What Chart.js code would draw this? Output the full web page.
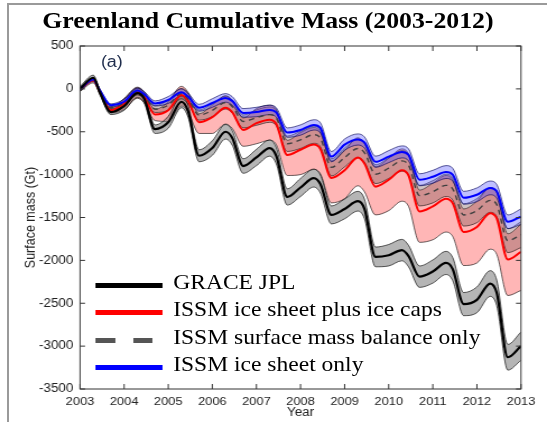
<!DOCTYPE html>
<html>
<head>
<meta charset="utf-8">
<script src="https://cdn.jsdelivr.net/npm/chart.js@4.4.1/dist/chart.umd.min.js"></script>
<style>
  body { margin: 0; background: #fff; overflow: hidden; }
  #page { position: relative; width: 547px; height: 422px; overflow: hidden; }
  #frame { position: absolute; left: 7px; top: 3px; width: 560px; height: 440px;
           border-left: 2px solid #9a9a9a; border-top: 2px solid #9a9a9a; }
  #box { position: absolute; left: 0; top: 0; width: 488px; height: 422px;
         transform: scaleX(1.1209); transform-origin: 0 0; }
  #myChart { position: absolute; left: 0; top: 0; }
  .titulo { position: absolute; left: 0; top: 9px; width: 478px; text-align: center;
            font: bold 23px "Liberation Serif", serif; line-height: 23px; color: #000; white-space: nowrap; }
  .panel { position: absolute; left: 90px; top: 54px; font: 16px "Liberation Sans", sans-serif;
           line-height: 16px; color: #1f2d4d; }
  .leg-line { position: absolute; height: 5px; }
  .leg-text { position: absolute; left: 154.5px; font: 21px "Liberation Serif", serif;
              line-height: 21px; color: #000; white-space: nowrap; }
</style>
</head>
<body>
<div id="page">
  <div id="frame"></div>
  <div id="box">
    <canvas id="myChart" width="488" height="422" style="width:488px;height:422px"></canvas>
    <div class="titulo">Greenland Cumulative Mass (2003-2012)</div>
    <div class="panel">(a)</div>
    <div id="leyenda"></div>
  </div>
</div>
<script>
// datos (Gt)
const years = [
  2003, 2003.3, 2003.45, 2003.7,
  2004, 2004.3, 2004.45, 2004.7,
  2005, 2005.3, 2005.45, 2005.7,
  2006, 2006.3, 2006.45, 2006.7,
  2007, 2007.3, 2007.45, 2007.7,
  2008, 2008.3, 2008.45, 2008.7,
  2009, 2009.3, 2009.45, 2009.7,
  2010, 2010.3, 2010.45, 2010.7,
  2011, 2011.3, 2011.45, 2011.7,
  2012, 2012.3, 2012.45, 2012.7,
  2013
];
const grace = [0, 130, -40, -270, -200, -50, -110, -470, -390, -150, -260, -780,
  -690, -500, -570, -900, -800, -690, -780, -1260, -1150, -1040, -1110, -1470,
  -1400, -1310, -1400, -1960, -1940, -1880, -1950, -2190, -2130, -2030, -2100, -2510,
  -2460, -2270, -2380, -3130, -3000];
const issmCaps = [0, 100, -30, -250, -170, -40, -90, -300, -250, -70, -140, -390,
  -330, -220, -270, -480, -400, -360, -410, -770, -710, -650, -700, -1040,
  -950, -800, -870, -1140, -1060, -950, -1010, -1430, -1370, -1280, -1330, -1670,
  -1610, -1450, -1510, -1990, -1900];
const issmSmb = [0, 105, -25, -220, -160, -30, -75, -235, -190, -55, -115, -305,
  -250, -160, -205, -380, -335, -300, -340, -640, -595, -535, -575, -915,
  -800, -695, -745, -995, -925, -840, -890, -1245, -1200, -1125, -1165, -1470,
  -1420, -1300, -1350, -1770, -1700];
const issmSheet = [0, 110, -20, -190, -150, -20, -60, -170, -130, -40, -90, -220,
  -165, -105, -140, -280, -270, -245, -275, -510, -480, -420, -455, -790,
  -650, -590, -625, -850, -790, -735, -770, -1060, -1025, -970, -1000, -1270,
  -1235, -1155, -1195, -1550, -1490];

// incertidumbre por año (2003..2013)
const graceErr = [30, 50, 70, 85, 95, 105, 115, 125, 135, 150, 165];
const capsErrUp = [20, 60, 100, 140, 170, 200, 230, 250, 270, 300, 320];
const capsErrLow = [30, 70, 130, 190, 240, 290, 330, 360, 390, 420, 450];
const smbErr = [20, 40, 60, 75, 90, 100, 110, 120, 130, 140, 150];
const sheetErr = [15, 30, 40, 50, 55, 60, 65, 70, 75, 80, 90];

const yTicks = [500, 0, -500, -1000, -1500, -2000, -2500, -3000, -3500];
const xTicks = [2003, 2004, 2005, 2006, 2007, 2008, 2009, 2010, 2011, 2012, 2013];

function puntos(vals, err, signo) {
  return years.map(function (t, i) {
    const e = err ? err[Math.floor(i / 4)] * signo : 0;
    return { x: t, y: vals[i] + e };
  });
}

function linea(label, vals, color, ancho, dash) {
  return {
    label: label, data: puntos(vals), borderColor: color, borderWidth: ancho,
    borderDash: dash || [], pointRadius: 0, fill: false,
    cubicInterpolationMode: 'monotone'
  };
}

function banda(vals, up, low, relleno, borde) {
  return [{
    label: 'sup', data: puntos(vals, up, 1), borderColor: borde, borderWidth: 0.8,
    pointRadius: 0, fill: false, cubicInterpolationMode: 'monotone'
  }, {
    label: 'inf', data: puntos(vals, low, -1), borderColor: borde, borderWidth: 0.8,
    backgroundColor: relleno, pointRadius: 0, fill: '-1', cubicInterpolationMode: 'monotone'
  }];
}

const datasets = [
  linea('GRACE JPL', grace, '#000000', 2.2),
  linea('ISSM ice sheet only', issmSheet, '#0000ff', 2),
  linea('ISSM surface mass balance only', issmSmb, '#404040', 1.4, [5, 4]),
  linea('ISSM ice sheet plus ice caps', issmCaps, '#ff0000', 2)
]
  .concat(banda(issmSheet, sheetErr, sheetErr, 'rgba(90,90,255,0.38)', 'rgba(0,0,90,0.8)'))
  .concat(banda(issmSmb, smbErr, smbErr, 'rgba(110,70,70,0.33)', 'rgba(0,0,0,0.7)'))
  .concat(banda(grace, graceErr, graceErr, 'rgba(120,120,120,0.55)', 'rgba(0,0,0,0.8)'))
  .concat(banda(issmCaps, capsErrUp, capsErrLow, 'rgba(255,110,110,0.5)', 'rgba(0,0,0,0.75)'));

// caja y marcas hacia dentro, estilo matlab
const cajaPlugin = {
  id: 'caja',
  afterDraw(chart) {
    const ctx = chart.ctx;
    const a = chart.chartArea;
    const sx = chart.scales.x, sy = chart.scales.y;
    ctx.save();
    ctx.strokeStyle = '#333';
    ctx.lineWidth = 1;
    ctx.strokeRect(a.left, a.top, a.right - a.left, a.bottom - a.top);
    ctx.beginPath();
    xTicks.forEach(function (v) {
      const px = sx.getPixelForValue(v);
      ctx.moveTo(px, a.bottom); ctx.lineTo(px, a.bottom - 5);
      ctx.moveTo(px, a.top); ctx.lineTo(px, a.top + 5);
    });
    yTicks.forEach(function (v) {
      const py = sy.getPixelForValue(v);
      ctx.moveTo(a.left, py); ctx.lineTo(a.left + 4.5, py);
      ctx.moveTo(a.right, py); ctx.lineTo(a.right - 4.5, py);
    });
    ctx.stroke();
    ctx.restore();
  }
};

const ctx = document.getElementById('myChart');
const myChart = new Chart(ctx, {
  type: 'line',
  data: { datasets: datasets },
  options: {
    responsive: false,
    animation: false,
    devicePixelRatio: 1,
    layout: { padding: { left: 0, right: 23.2, top: 46, bottom: 0 } },
    plugins: {
      legend: { display: false },
      tooltip: { enabled: false },
      title: { display: false }
    },
    scales: {
      x: {
        type: 'linear', min: 2003, max: 2013,
        afterFit: function (s) { s.height = 33; },
        afterBuildTicks: function (s) { s.ticks = xTicks.map(function (v) { return { value: v }; }); },
        grid: { display: false, drawTicks: false },
        border: { display: false },
        ticks: { padding: 6, color: '#222', maxRotation: 0, autoSkip: false,
          font: { family: 'Liberation Sans', size: 11.5 },
          callback: function (v) { return String(v); } },
        title: { display: true, text: 'Year', color: '#222', padding: { top: 0, bottom: 2 },
          font: { family: 'Liberation Sans', size: 12 } }
      },
      y: {
        type: 'linear', min: -3500, max: 500,
        afterFit: function (s) { s.width = 71.4; },
        afterBuildTicks: function (s) { s.ticks = yTicks.map(function (v) { return { value: v }; }); },
        grid: { display: false, drawTicks: false },
        border: { display: false },
        ticks: { padding: 6, color: '#222', autoSkip: false,
          font: { family: 'Liberation Sans', size: 12 },
          callback: function (v) { return String(v); } },
        title: { display: true, text: 'Surface mass (Gt)', color: '#222', padding: { top: 20, bottom: 0 },
          font: { family: 'Liberation Sans', size: 12.5 } }
      }
    }
  },
  plugins: [cajaPlugin]
});

// leyenda en html
const leyenda = [
  { texto: 'GRACE JPL', color: '#000000', y: 285 },
  { texto: 'ISSM ice sheet plus ice caps', color: '#ff0000', y: 312.5 },
  { texto: 'ISSM surface mass balance only', color: '#555555', y: 340, guiones: true },
  { texto: 'ISSM ice sheet only', color: '#0000ff', y: 367.5 }
];
const cont = document.getElementById('leyenda');
leyenda.forEach(function (it) {
  const tramos = it.guiones ? [[84.8, 102.7], [118.8, 135.7]] : [[84.8, 144.6]];
  tramos.forEach(function (tr) {
    const d = document.createElement('div');
    d.className = 'leg-line';
    d.style.left = tr[0] + 'px';
    d.style.width = (tr[1] - tr[0]) + 'px';
    d.style.top = (it.y - 2.5) + 'px';
    d.style.background = it.color;
    cont.appendChild(d);
  });
  const s = document.createElement('div');
  s.className = 'leg-text';
  s.style.top = (it.y - 13.5) + 'px';
  s.textContent = it.texto;
  cont.appendChild(s);
});
</script>
</body>
</html>
